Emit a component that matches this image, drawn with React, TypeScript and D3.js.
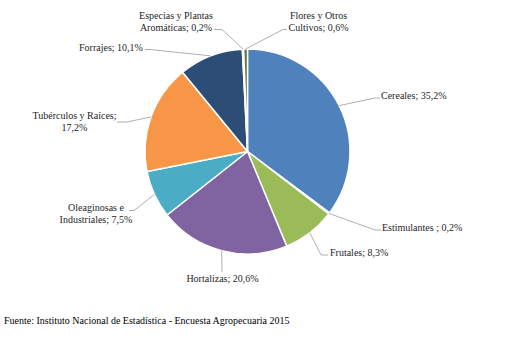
import React from "react";
import * as d3 from "d3";

const categories = [
  "Cereales",
  "Estimulantes ",
  "Frutales",
  "Hortalizas",
  "Oleaginosas e Industriales",
  "Tubérculos y Raíces",
  "Forrajes",
  "Especias y Plantas Aromáticas",
  "Flores y Otros Cultivos",
];
const values = [35.2, 0.2, 8.3, 20.6, 7.5, 17.2, 10.1, 0.2, 0.6];
const labelLines = [
  ["Cereales; 35,2%"],
  ["Estimulantes ; 0,2%"],
  ["Frutales; 8,3%"],
  ["Hortalizas; 20,6%"],
  ["Oleaginosas e", "Industriales; 7,5%"],
  ["Tubérculos y Raíces;", "17,2%"],
  ["Forrajes; 10,1%"],
  ["Especias y Plantas", "Aromáticas; 0,2%"],
  ["Flores y Otros", "Cultivos; 0,6%"],
];
const colors = [
  "#4F81BD",
  "#C0504D",
  "#9BBB59",
  "#8064A2",
  "#4BACC6",
  "#F79646",
  "#2C4D75",
  "#772C2A",
  "#5F7530",
];
const source = "Fuente: Instituto Nacional de Estadística - Encuesta Agropecuaria 2015";

// label layout: text anchor position, alignment, leader elbow and end
const labelLayout = [
  { x: 381, y: 98.5, anchor: "start", elbow: [375, 98], end: [380, 98] },
  { x: 382, y: 230.5, anchor: "start", elbow: [375, 230], end: [381, 230] },
  { x: 330, y: 255.5, anchor: "start", elbow: [321, 255], end: [328, 255] },
  { x: 222.5, y: 281.5, anchor: "middle", elbow: [222, 272], end: [222, 272] },
  { x: 96, y: 210.5, anchor: "middle", elbow: [134, 210.5], end: [129, 210.5] },
  { x: 74.5, y: 118.5, anchor: "middle", elbow: [127, 122], end: [117, 122] },
  { x: 111, y: 50.5, anchor: "middle", elbow: [150, 49.5], end: [145, 49.5] },
  { x: 176, y: 18.5, anchor: "middle", elbow: [222, 29.5], end: [214, 29.5] },
  { x: 318.5, y: 18.5, anchor: "middle", elbow: [283, 29.5], end: [287, 29.5] },
];

const FONT = '"Liberation Serif", "DejaVu Serif", "Times New Roman", serif';

export default function App() {
  const width = 506;
  const height = 344;
  const cx = 247.5;
  const cy = 151.5;
  const r = 102.5;

  const pie = d3
    .pie<number>()
    .sort(null)
    .value((d) => d);
  const arcs = pie(values);
  const arc = d3.arc<d3.PieArcDatum<number>>().innerRadius(0).outerRadius(r);

  return (
    <svg
      width={width}
      height={height}
      style={{ position: "absolute", left: 0, top: 0, background: "#fff", fontFamily: FONT, fontSize: "10px" }}
    >
      <rect width={width} height={height} fill="#fff" />
      <g transform={`translate(${cx},${cy})`}>
        {arcs.map((a, i) => (
          <path
            key={categories[i]}
            d={arc(a) || ""}
            fill={colors[i]}
            stroke="#fff"
            strokeWidth={1.5}
            strokeLinejoin="round"
          />
        ))}
      </g>
      {arcs.map((a, i) => {
        const mid = (a.startAngle + a.endAngle) / 2;
        const sx = cx + r * Math.sin(mid);
        const sy = cy - r * Math.cos(mid);
        const L = labelLayout[i];
        return (
          <polyline
            key={"l" + i}
            points={`${sx},${sy} ${L.elbow[0]},${L.elbow[1]} ${L.end[0]},${L.end[1]}`}
            fill="none"
            stroke="#A6A6A6"
            strokeWidth={0.9}
          />
        );
      })}
      {labelLines.map((lines, i) => {
        const L = labelLayout[i];
        return (
          <text key={"t" + i} x={L.x} y={L.y} textAnchor={L.anchor} fill="#262626" style={{ fontFamily: FONT }}>
            {lines.map((ln, j) => (
              <tspan key={j} x={L.x} dy={j === 0 ? 0 : 12.5}>
                {ln}
              </tspan>
            ))}
          </text>
        );
      })}
      <text x={4} y={323.5} fill="#000" style={{ fontFamily: FONT }}>
        {source}
      </text>
    </svg>
  );
}
